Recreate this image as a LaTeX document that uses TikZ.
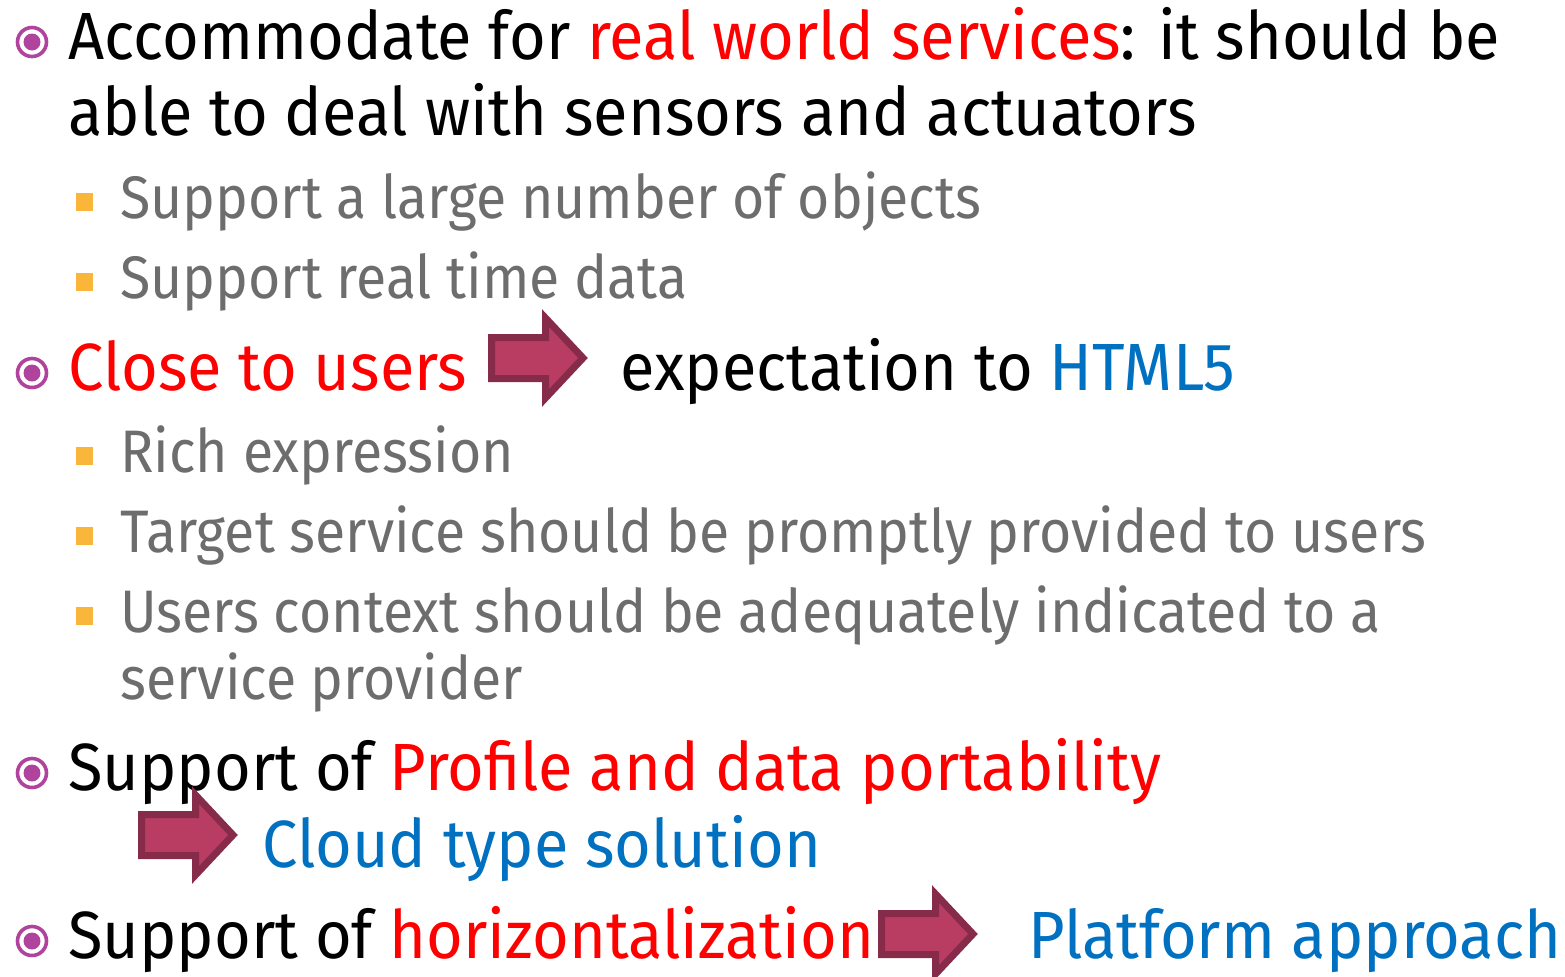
\documentclass[tikz,border=0pt]{standalone}
\usepackage{fontspec}
\setmainfont{Fira Sans}
\newfontfamily\mainfam{Fira Sans}[FakeStretch=0.944]
\newfontfamily\subfam{Fira Sans}[FakeStretch=0.923]
\usetikzlibrary{calc}
\definecolor{hlred}{HTML}{FF0000}
\definecolor{hlblue}{HTML}{0070C0}
\definecolor{subgray}{HTML}{6D6D6D}
\definecolor{bulletmag}{HTML}{B0439C}
\definecolor{sqorange}{HTML}{F9B63B}
\definecolor{arrfill}{HTML}{B93C63}
\definecolor{arrdraw}{HTML}{862B49}
\tikzset{
  maintext/.style={anchor=base west, inner sep=0pt, font=\mainfam\fontsize{33.4}{40}\selectfont, text=black},
  subtext/.style={anchor=base west, inner sep=0pt, font=\subfam\fontsize{30}{36}\selectfont, text=subgray},
  ring/.style={draw=bulletmag, line width=1.8pt, circle, minimum size=14.5pt, inner sep=0pt},
  dot/.style={fill=bulletmag, circle, minimum size=8.5pt, inner sep=0pt},
  sq/.style={fill=sqorange, minimum width=8.5pt, minimum height=9pt, inner sep=0pt},
  blockarrow/.style={fill=arrfill, draw=arrdraw, line width=3.5pt, line join=miter}
}
\newcommand{\rblockarrow}[3]{% name, left x, centre y
  \draw[blockarrow] (#2+3.5,#3-20.5) -- (#2+57.5,#3-20.5) -- (#2+57.5,#3-40) -- (#2+95,#3) -- (#2+57.5,#3+40) -- (#2+57.5,#3+20.5) -- (#2+3.5,#3+20.5) -- cycle;
  \coordinate (#1) at (#2+50,#3);
}
\begin{document}
\begin{tikzpicture}[x=0.5pt,y=-0.5pt]
\useasboundingbox (0,0) rectangle (1565,976);
% main bullets
\foreach \n/\y in {b1/42,b2/373,b3/773,b4/941}{
  \node[ring] (\n) at (32,\y) {};
  \node[dot] (\n d) at (32,\y) {};
}
% sub bullets
\foreach \n/\y in {q1/202,q2/282,q3/456,q4/536,q5/616}{
  \node[sq] (\n) at (84,\y) {};
}
\node[maintext] (l1) at (68,59) {Accommodate for \textcolor{hlred}{real world services}: it should be};
\node[maintext] (l2) at (68,135) {able to deal with sensors and actuators};
\node[subtext] (s1) at (120,218) {Support a large number of objects};
\node[subtext] (s2) at (120,298) {Support real time data};
\node[maintext, text=hlred] (l3) at (68,390) {Close to users};
\node[maintext] (l3b) at (620,390) {expectation to \textcolor{hlblue}{HTML5}};
\node[subtext] (s3) at (120,472) {Rich expression};
\node[subtext] (s4) at (120,552) {Target service should be promptly provided to users};
\node[subtext] (s5) at (120,632) {Users context should be adequately indicated to a};
\node[subtext] (s5b) at (120,699) {service provider};
\node[maintext] (l4) at (68,790) {Support of \textcolor{hlred}{Profile and data portability}};
\node[maintext, text=hlblue] (l4b) at (262,867) {Cloud type solution};
\node[maintext] (l5) at (68,958) {Support of \textcolor{hlred}{horizontalization}};
\node[maintext, text=hlblue] (l5b) at (1028,958) {Platform approach};
% block arrows
\rblockarrow{a1}{488}{358}
\rblockarrow{a2}{138}{835}
\rblockarrow{a3}{878}{934}
\end{tikzpicture}
\end{document}
